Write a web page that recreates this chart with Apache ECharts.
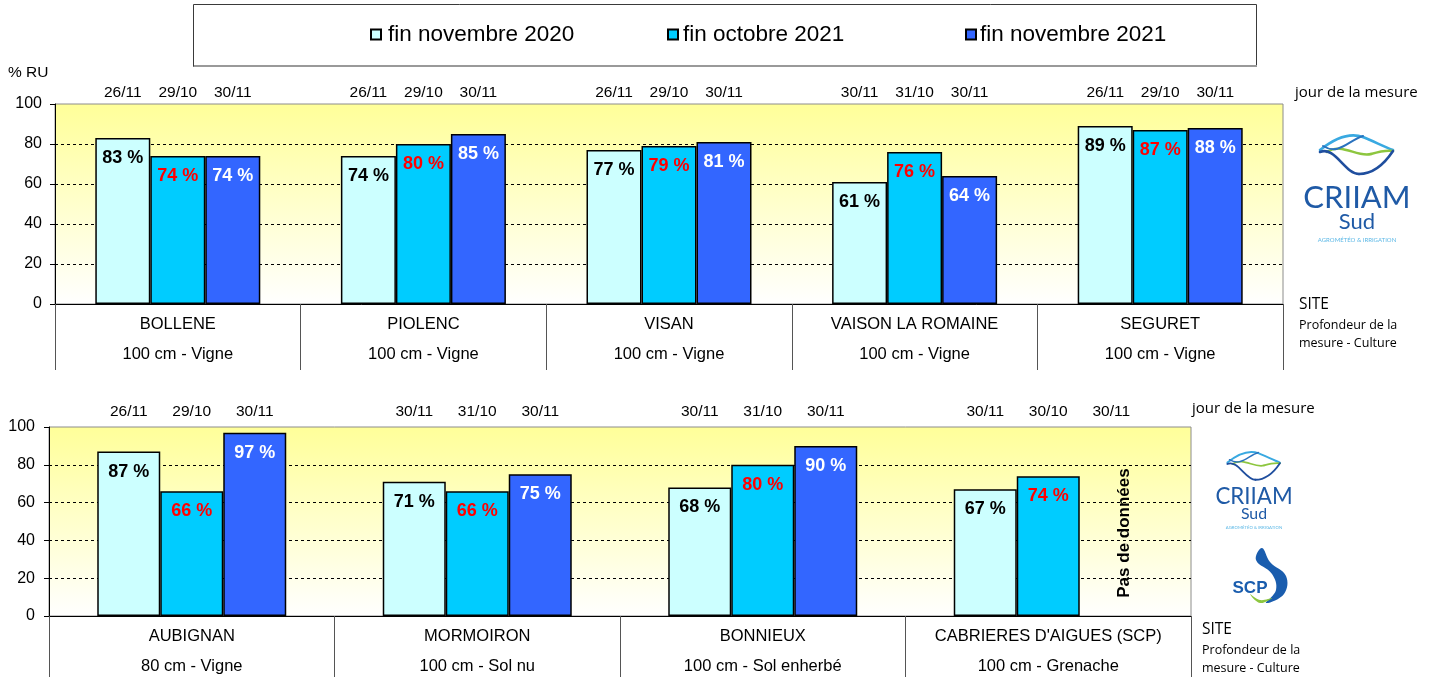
<!DOCTYPE html>
<html>
<head>
<meta charset="utf-8">
<script src="https://cdn.jsdelivr.net/npm/echarts@6/dist/echarts.min.js"></script>
<style>
  html, body { margin: 0; padding: 0; background: #fff; }
  #main { width: 1438px; height: 677px; }
</style>
</head>
<body>
<div id="main"></div>
<script>
// séries (légende)
const seriesNames = ['fin novembre 2020', 'fin octobre 2021', 'fin novembre 2021'];

// graphique du haut
const sitesTop = ['BOLLENE', 'PIOLENC', 'VISAN', 'VAISON LA ROMAINE', 'SEGURET'];
const depthTop = ['100 cm - Vigne', '100 cm - Vigne', '100 cm - Vigne', '100 cm - Vigne', '100 cm - Vigne'];
const nov2020Top = [83, 74, 77, 61, 89];
const oct2021Top = [74, 80, 79, 76, 87];
const nov2021Top = [74, 85, 81, 64, 88];
const datesNov2020Top = ['26/11', '26/11', '26/11', '30/11', '26/11'];
const datesOct2021Top = ['29/10', '29/10', '29/10', '31/10', '29/10'];
const datesNov2021Top = ['30/11', '30/11', '30/11', '30/11', '30/11'];

// graphique du bas
const sitesBot = ['AUBIGNAN', 'MORMOIRON', 'BONNIEUX', "CABRIERES D'AIGUES (SCP)"];
const depthBot = ['80 cm - Vigne', '100 cm - Sol nu', '100 cm - Sol enherbé', '100 cm - Grenache'];
const nov2020Bot = [87, 71, 68, 67];
const oct2021Bot = [66, 66, 80, 74];
const nov2021Bot = [97, 75, 90, null];
const datesNov2020Bot = ['26/11', '30/11', '30/11', '30/11'];
const datesOct2021Bot = ['29/10', '31/10', '31/10', '30/10'];
const datesNov2021Bot = ['30/11', '30/11', '30/11', '30/11'];

const yTicks = [0, 20, 40, 60, 80, 100];

const colors = ['#CCFFFF', '#00CCFF', '#3366FF'];
const labelColors = ['#000000', '#FF0000', '#FFFFFF'];
const FONT = 'Liberation Sans, Arial, sans-serif';
const SIDE_FONT = 'Open Sans, Noto Sans, sans-serif';

const chart = echarts.init(document.getElementById('main'));

const plotBg = new echarts.graphic.LinearGradient(0, 0, 0, 1, [
  { offset: 0, color: '#FFFF99' },
  { offset: 1, color: '#FFFFFF' }
]);

function grid(left, right, top, height) {
  return {
    left, right, top, height,
    show: true,
    backgroundColor: plotBg,
    borderColor: '#8c8c8c',
    borderWidth: 1
  };
}

function catAxis(gridIndex, sites, depths, tickLen, margin) {
  return {
    type: 'category',
    gridIndex,
    data: sites,
    axisLine: { lineStyle: { color: '#000', width: 1 } },
    axisTick: { show: true, length: tickLen, lineStyle: { color: '#555' } },
    axisLabel: {
      margin,
      interval: 0,
      formatter: (v, i) => '{s|' + v + '}\n{d|' + depths[i] + '}',
      rich: {
        s: { fontFamily: FONT, fontSize: 16.5, color: '#000', lineHeight: 30 },
        d: { fontFamily: FONT, fontSize: 16.5, color: '#000', lineHeight: 30 }
      }
    }
  };
}

function ghostCatAxis(gridIndex, sites) {
  return { type: 'category', gridIndex, data: sites, show: false };
}

function valAxis(gridIndex, margin) {
  return {
    type: 'value',
    gridIndex,
    min: 0, max: 100, interval: 20,
    axisLine: { show: true, lineStyle: { color: '#000', width: 1 } },
    axisTick: { show: true, length: 5, lineStyle: { color: '#000' } },
    axisLabel: { fontFamily: FONT, fontSize: 16, color: '#000', margin },
    splitLine: {
      show: true,
      lineStyle: {
        type: [3, 3],
        width: 1,
        color: yTicks.map(t => (t === 0 || t === 100) ? 'rgba(0,0,0,0)' : '#000')
      }
    }
  };
}

function ghostValAxis(gridIndex) {
  return { type: 'value', gridIndex, min: 0, max: 100, show: false, splitLine: { show: false } };
}

function barSeries(k, data, xi, yi, width) {
  return {
    name: seriesNames[k],
    type: 'bar',
    xAxisIndex: xi,
    yAxisIndex: yi,
    data,
    barWidth: width,
    barGap: '0%',
    itemStyle: { color: colors[k], borderColor: '#000', borderWidth: 1.5 },
    label: {
      show: true,
      position: 'insideTop',
      distance: 11,
      formatter: p => p.value + ' %',
      fontFamily: FONT,
      fontSize: 18,
      fontWeight: 'bold',
      color: labelColors[k]
    },
    emphasis: { disabled: true },
    z: 3
  };
}

// barres invisibles pleine hauteur : portent les dates de mesure au-dessus du cadre
function dateSeries(k, dates, xi, yi, width, dist) {
  return {
    name: 'date' + k,
    type: 'bar',
    xAxisIndex: xi,
    yAxisIndex: yi,
    data: dates.map(() => 100),
    barWidth: width,
    barGap: '0%',
    silent: true,
    itemStyle: { color: 'rgba(0,0,0,0)' },
    label: {
      show: true,
      position: 'top',
      distance: dist,
      formatter: p => dates[p.dataIndex],
      fontFamily: FONT,
      fontSize: 15.5,
      color: '#000'
    },
    z: 1
  };
}

function legendAt(left, name, pad) {
  return {
    left, top: 23,
    padding: 0,
    data: [name],
    icon: 'rect',
    itemWidth: 10,
    itemHeight: 10,
    itemGap: 0,
    selectedMode: false,
    textStyle: { fontFamily: FONT, fontSize: 22.5, color: '#000', padding: [0, 0, 0, pad] }
  };
}

function sideText(x, y, text, size, weight) {
  return {
    type: 'text', x, y,
    style: { text, fontFamily: SIDE_FONT, fontSize: size, fontWeight: weight || 'normal', fill: '#000', textVerticalAlign: 'middle' }
  };
}

// courbe de Bézier cubique (coordonnées relatives au logo)
function curve(cx, top, s, pts, stroke, w) {
  const X = dx => cx + dx * s, Y = dy => top + dy * s;
  return {
    type: 'bezierCurve',
    shape: {
      x1: X(pts[0]), y1: Y(pts[1]),
      cpx1: X(pts[2]), cpy1: Y(pts[3]),
      cpx2: X(pts[4]), cpy2: Y(pts[5]),
      x2: X(pts[6]), y2: Y(pts[7])
    },
    style: { fill: 'none', stroke, lineWidth: w * s, lineCap: 'round' }
  };
}

// logo CRIIAM Sud (approximation)
function criiamLogo(cx, top, s) {
  const LOGO_FONT = 'Lato, Noto Sans, sans-serif';
  return [
    curve(cx, top, s, [-37, 16, -22, 4, -8, -2, 6, 3], '#39A9E1', 2.6),
    curve(cx, top, s, [6, 3, 18, 8, 28, 13, 36, 16], '#39A9E1', 2.6),
    curve(cx, top, s, [-30, 18, -15, 8, 0, 24, 14, 20], '#8DC63F', 2.4),
    curve(cx, top, s, [14, 20, 24, 17, 30, 16, 36, 17], '#8DC63F', 2.4),
    curve(cx, top, s, [-37, 18, -22, 12, -12, 40, 2, 40], '#1F4E9E', 2.6),
    curve(cx, top, s, [2, 40, 18, 40, 30, 26, 36, 17], '#1F4E9E', 2.6),
    curve(cx, top, s, [-34, 12, -18, 22, -8, 6, 6, 2], '#2A72BE', 2),
    { type: 'text', x: cx, y: top + 64 * s,
      style: { text: 'CRIIAM', fontFamily: LOGO_FONT, fontSize: 31 * s, fill: '#1F5AA6', textAlign: 'center', textVerticalAlign: 'middle' } },
    { type: 'text', x: cx, y: top + 88 * s,
      style: { text: 'Sud', fontFamily: LOGO_FONT, fontSize: 22 * s, fill: '#1F5AA6', textAlign: 'center', textVerticalAlign: 'middle' } },
    { type: 'text', x: cx, y: top + 106 * s,
      style: { text: 'AGROMÉTÉO & IRRIGATION', fontFamily: LOGO_FONT, fontSize: 6 * s, fill: '#5CB8E6', textAlign: 'center', textVerticalAlign: 'middle' } }
  ];
}

const graphics = [
  { type: 'rect', shape: { x: 193.5, y: 4.5, width: 1063, height: 62 }, style: { fill: 'none', stroke: '#3a3a3a', lineWidth: 1 } },
  { type: 'line', shape: { x1: 194, y1: 66, x2: 1257, y2: 66 }, style: { stroke: '#999', lineWidth: 2 } },
  { type: 'text', x: 8, y: 73, style: { text: '% RU', fontFamily: FONT, fontSize: 15.5, fill: '#000', textVerticalAlign: 'middle' } },
  sideText(1295, 93, 'jour de la mesure', 15),
  sideText(1299, 305, 'SITE', 15.5),
  sideText(1299, 325, 'Profondeur de la', 12.5),
  sideText(1299, 343, 'mesure - Culture', 12.5),
  sideText(1192, 409, 'jour de la mesure', 15),
  sideText(1202, 630, 'SITE', 15.5),
  sideText(1202, 650, 'Profondeur de la', 12.5),
  sideText(1202, 668, 'mesure - Culture', 12.5),
  { type: 'text', x: 1124, y: 533, rotation: Math.PI / 2,
    style: { text: 'Pas de données', fontFamily: FONT, fontSize: 17, fontWeight: 'bold', fill: '#000', textAlign: 'center', textVerticalAlign: 'middle' } },
  ...criiamLogo(1357, 134, 1),
  ...criiamLogo(1254, 451, 0.72),
  // logo SCP (approximation)
  { type: 'polygon',
    shape: { points: [[1262, 548], [1256, 560], [1272, 574], [1276, 590], [1266, 603], [1284, 594], [1286, 576], [1270, 562]], smooth: 0.4 },
    style: { fill: '#1A5DAE' } },
  { type: 'polygon',
    shape: { points: [[1250, 594], [1260, 603], [1272, 598], [1260, 600]], smooth: 0.4 },
    style: { fill: '#8DC63F' } },
  { type: 'text', x: 1250, y: 588,
    style: { text: 'SCP', fontFamily: FONT, fontSize: 17, fontWeight: 'bold', fill: '#1A5DAE', textAlign: 'center', textVerticalAlign: 'middle' } }
];

const option = {
  backgroundColor: '#fff',
  animation: false,
  legend: [
    legendAt(370, seriesNames[0], 2),
    legendAt(667, seriesNames[1], 0),
    legendAt(965, seriesNames[2], -1)
  ],
  grid: [
    grid(55, 1438 - 1283, 104, 200),
    grid(49, 1438 - 1191, 427, 189)
  ],
  xAxis: [
    catAxis(0, sitesTop, depthTop, 66, 5),
    catAxis(1, sitesBot, depthBot, 61, 5),
    ghostCatAxis(0, sitesTop),
    ghostCatAxis(1, sitesBot)
  ],
  yAxis: [valAxis(0, 13), valAxis(1, 14), ghostValAxis(0), ghostValAxis(1)],
  series: [
    barSeries(0, nov2020Top, 0, 0, 55),
    barSeries(1, oct2021Top, 0, 0, 55),
    barSeries(2, nov2021Top, 0, 0, 55),
    barSeries(0, nov2020Bot, 1, 1, 63),
    barSeries(1, oct2021Bot, 1, 1, 63),
    barSeries(2, nov2021Bot, 1, 1, 63),
    dateSeries(0, datesNov2020Top, 2, 2, 55, 3),
    dateSeries(1, datesOct2021Top, 2, 2, 55, 3),
    dateSeries(2, datesNov2021Top, 2, 2, 55, 3),
    dateSeries(0, datesNov2020Bot, 3, 3, 63, 7),
    dateSeries(1, datesOct2021Bot, 3, 3, 63, 7),
    dateSeries(2, datesNov2021Bot, 3, 3, 63, 7)
  ],
  graphic: graphics
};

chart.setOption(option);
</script>
</body>
</html>
